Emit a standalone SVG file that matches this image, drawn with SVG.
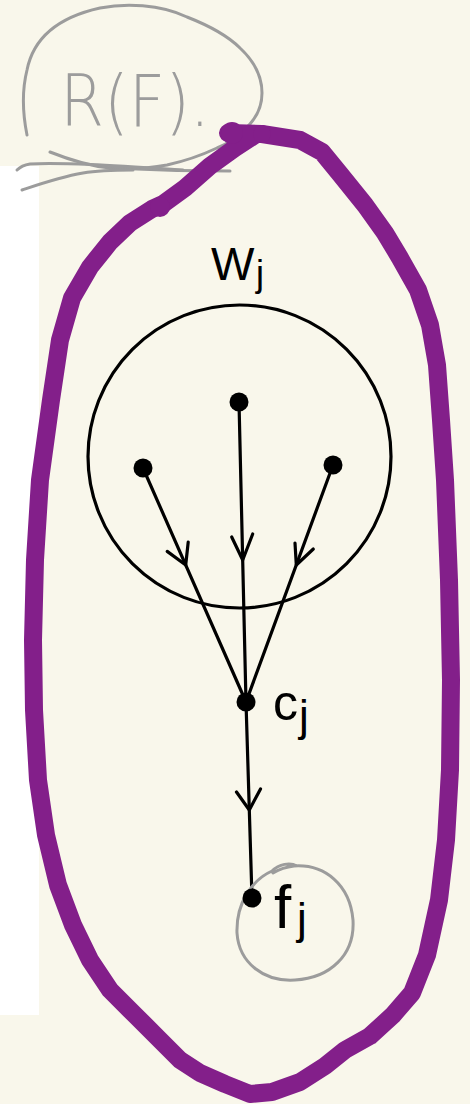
<svg xmlns="http://www.w3.org/2000/svg" width="470" height="1104" viewBox="0 0 470 1104">
<style>
.gray{fill:none;stroke:#9c9c9c;stroke-width:3;stroke-linecap:round;stroke-linejoin:round}
.edge{fill:none;stroke:#000;stroke-width:3.2;stroke-linecap:round;stroke-linejoin:round}
.node{fill:#000}
.lbl{font-family:"Liberation Sans","DejaVu Sans",sans-serif;fill:#000}
.glbl{font-family:"DejaVu Sans","Liberation Sans",sans-serif;font-weight:200;fill:#9c9c9c}
</style>
<rect width="470" height="1104" fill="#f9f7eb"/>
<rect x="0" y="166" width="39" height="849" fill="#ffffff"/>
<g id="rf-note">
<path class="gray" d="M27,135 C22,110 22,90 27,70 C33,40 55,18 100,8 C125,3 160,4 187,17 C210,26 228,36 240,48 C255,62 262,78 262,93 C262,106 258,115 250,124 C240,135 230,143 217,148 C200,156 185,161 167,165 C145,169 125,169 110,168 C90,166 70,160 50,152"/>
<path class="gray" d="M110,168 C150,170 190,171 230,171"/>
<path class="gray" d="M17,170 C20,167 24,165 30,164 C60,162 120,166 183,170"/>
<path class="gray" d="M22,190 C40,184 60,177 83,173 C100,170 118,170 133,170"/>
<text class="glbl" x="60" y="126" font-size="72" textLength="150" lengthAdjust="spacingAndGlyphs">R(F).</text>
</g>
<g id="region-purple">
<path d="M228,133 L262,134 L300,140 L322,152 L340,174 L365,205 L385,233 L400,258 L418,290 L430,325 L437,365 L441,420 L445,480 L449,580 L451,680 L450,770 L446,840 L439,900 L427,955 L412,993 L393,1015 L370,1036 L345,1050 L325,1066 L300,1082 L272,1092 L250,1094 L225,1084 L200,1073 L180,1060 L160,1040 L135,1015 L110,990 L90,960 L73,925 L58,885 L46,835 L38,780 L34,710 L33,640 L35,560 L40,480 L51,400 L60,340 L72,298 L90,267 L110,242 L130,223 L152,209 L163,204 L185,188 L210,166 L235,148 L255,135" fill="none" stroke="#831f8a" stroke-width="18" stroke-linecap="round" stroke-linejoin="round"/>
<circle cx="160" cy="207" r="10" fill="#831f8a"/>
<circle cx="232" cy="133" r="11" fill="#831f8a"/>
<circle cx="262" cy="134" r="9" fill="#831f8a"/>
</g>
<g id="Wj">
<circle cx="239.5" cy="456.5" r="151.5" fill="none" stroke="#000" stroke-width="3.2"/>
<text class="lbl" x="211" y="280" font-size="46">W</text>
<text class="lbl" x="256" y="286" font-size="36">j</text>
</g>
<g id="connectors">
<path class="edge" d="M239,402 L246,702"/>
<path class="edge" d="M143,468 L246,702"/>
<path class="edge" d="M333,465 L246,702"/>
<path class="edge" d="M246,702 L252,898"/>
<path class="edge" d="M231.7,537 L242.7,560 L252.7,534"/>
<path class="edge" d="M167.2,551.4 L185.7,565 L188.2,542.1"/>
<path class="edge" d="M295,543 L296.3,565 L313.3,549"/>
<path class="edge" d="M236.5,792 L249.3,810 L260.5,789"/>
</g>
<g id="w1"><circle class="node" cx="239" cy="402" r="9.5"/></g>
<g id="w2"><circle class="node" cx="143" cy="468" r="9.5"/></g>
<g id="w3"><circle class="node" cx="333" cy="465" r="9.5"/></g>
<g id="cj">
<circle class="node" cx="246" cy="702" r="9.5"/>
<text class="lbl" x="273" y="720" font-size="50">c</text>
<text class="lbl" x="299" y="731" font-size="44">j</text>
</g>
<g id="fj">
<path class="gray" d="M297,866 C290,862 279,864 272,871 C252,880 236,903 237,933 C239,963 264,982 295,980 C330,978 355,955 353,920 C350,885 325,864 294,866 C285,867 278,870 273,873"/>
<circle class="node" cx="252" cy="898" r="9.5"/>
<text class="lbl" x="274" y="928" font-size="62">f</text>
<text class="lbl" x="297" y="934" font-size="44">j</text>
</g>
</svg>
